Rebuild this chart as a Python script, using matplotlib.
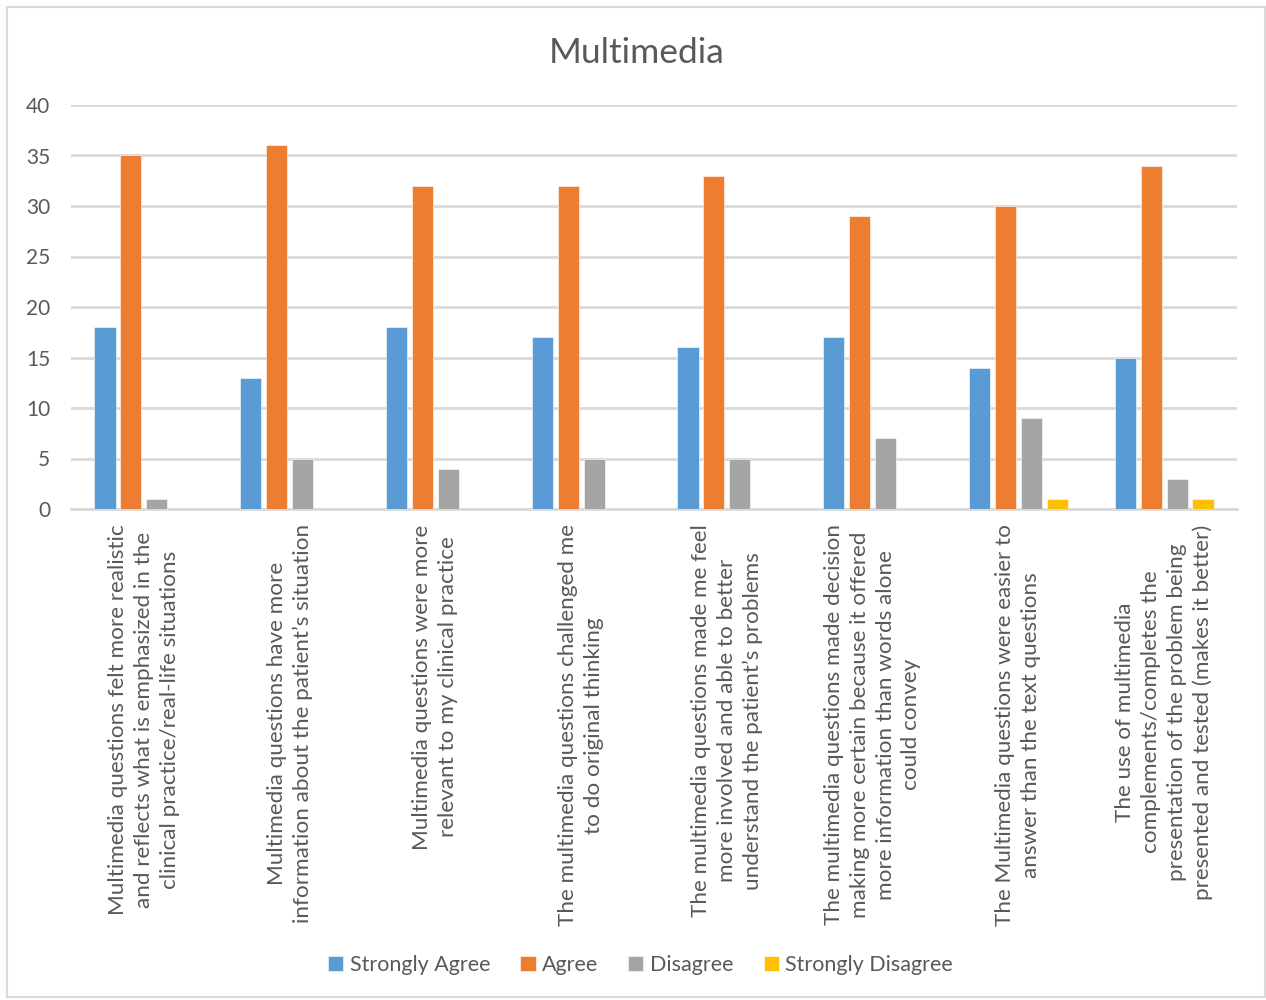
import matplotlib
matplotlib.use('Agg')
import numpy as np
import matplotlib.pyplot as plt
from matplotlib.patches import Rectangle

plt.rcParams['font.family'] = ['Lato', 'DejaVu Sans']

# Survey items, one group of bars each
questions = [
    "Multimedia questions felt more realistic\nand reflects what is emphasized in the\nclinical practice/real-life situations",
    "Multimedia questions have more\ninformation about the patient\u2019s situation",
    "Multimedia questions were more\nrelevant to my clinical practice",
    "The multimedia questions challenged me\nto do original thinking",
    "The multimedia questions made me feel\nmore involved and able to better\nunderstand the patient\u2019s problems",
    "The multimedia questions made decision\nmaking more certain because it offered\nmore information than words alone\ncould convey",
    "The Multimedia questions were easier to\nanswer than the text questions",
    "The use of multimedia\ncomplements/completes the\npresentation of the problem being\npresented and tested (makes it better)",
]

strongly_agree = [18, 13, 18, 17, 16, 17, 14, 15]
agree = [35, 36, 32, 32, 33, 29, 30, 34]
disagree = [1, 5, 4, 5, 5, 7, 9, 3]
strongly_disagree = [0, 0, 0, 0, 0, 0, 1, 1]

series_names = ['Strongly Agree', 'Agree', 'Disagree', 'Strongly Disagree']
colors = ['#5B9BD5', '#ED7D31', '#A5A5A5', '#FFC000']
text_color = '#595959'
grid_color = '#D9D9D9'

fig = plt.figure(figsize=(12.66, 10), dpi=100)
ax = fig.add_axes([71 / 1266, 1 - 509 / 1000, (1237 - 71) / 1266, (509 - 105) / 1000])

x = np.arange(len(questions))
width = 0.145
step = 0.178
all_series = [strongly_agree, agree, disagree, strongly_disagree]
for i, (vals, name, col) in enumerate(zip(all_series, series_names, colors)):
    ax.bar(x + (i - 1.5) * step, vals, width, color=col, label=name,
           edgecolor='white', linewidth=0.4, zorder=3)

ax.set_xlim(-0.5, len(questions) - 0.5)
ax.set_ylim(0, 40)
ax.set_yticks(range(0, 41, 5))
ax.yaxis.grid(True, color=grid_color, linewidth=2)
ax.set_axisbelow(True)
for side in ['top', 'right', 'left']:
    ax.spines[side].set_visible(False)
ax.spines['bottom'].set_color(grid_color)
ax.spines['bottom'].set_linewidth(2)
ax.tick_params(axis='y', length=0, pad=15, labelsize=15, labelcolor=text_color)
ax.tick_params(axis='x', length=0, pad=11)

ax.set_xticks(x)
ax.set_xticklabels(questions, rotation=90, ha='center', va='top',
                   multialignment='center', fontsize=16.2, color=text_color,
                   linespacing=1.36)

fig.text(0.503, 0.947, 'Multimedia', ha='center', va='center',
         fontsize=25.5, color=text_color)

leg = fig.legend(loc='center', bbox_to_anchor=(0.506, 0.035), ncol=4,
                 frameon=False, fontsize=15.5, handlelength=0.7, handleheight=0.7,
                 handletextpad=0.3, columnspacing=1.4)
for t in leg.get_texts():
    t.set_color(text_color)

# chart area border
fig.patches.append(Rectangle((6.5 / 1266, 3 / 1000), 1258 / 1266, 990 / 1000,
                             transform=fig.transFigure, fill=False,
                             edgecolor=grid_color, linewidth=1.5))

fig.savefig('out.png', dpi=100)
